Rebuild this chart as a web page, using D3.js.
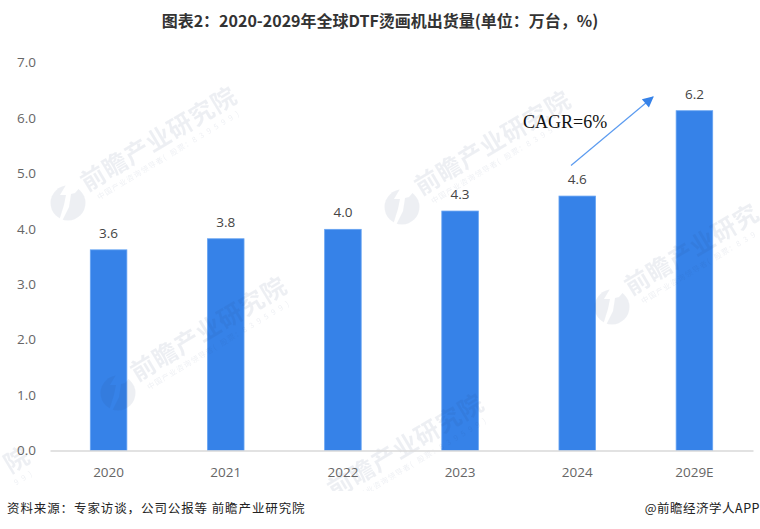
<!DOCTYPE html>
<html><head><meta charset="utf-8">
<script src="https://cdn.jsdelivr.net/npm/d3@7"></script>
<style>html,body{margin:0;padding:0;background:#fff}svg{display:block}</style></head>
<body><svg id="c" width="760" height="529"></svg>
<script>
const categories = ["2020","2021","2022","2023","2024","2029E"];
const values = [3.62,3.82,3.99,4.32,4.59,6.13];
const valueLabels = ["3.6","3.8","4.0","4.3","4.6","6.2"];
const yTicks = [0,1,2,3,4,5,6,7];
const titleText = "图表2\uFF1A2020-2029年全球DTF烫画机出货量(单位\uFF1A万台\uFF0C%)";
const sourceText = "资料来源\uFF1A专家访谈\uFF0C公司公报等 前瞻产业研究院";
const creditText = "@前瞻经济学人APP";
const cagrText = "CAGR=6%";
const watermarkMain = Array.from("前瞻产业研究院");
const watermarkSub = Array.from("中国产业咨询领导者(股票\uFF1A839599)");

const svg = d3.select("#c");
const x = d3.scaleBand().domain(categories).range([50,753]).paddingInner(0.688).paddingOuter(0.344);
const y = d3.scaleLinear().domain([0,7]).range([450.5,62.5]);
const cjk = "'Noto Sans CJK SC','Noto Sans',sans-serif";
const latin = "'Open Sans','Noto Sans',sans-serif";
const defs = svg.append("defs");

// bars
svg.append("g").selectAll("rect").data(values).join("rect")
  .attr("x",(d,i)=>x(categories[i])).attr("y",d=>y(d))
  .attr("width",x.bandwidth()).attr("height",d=>y(0)-y(d))
  .attr("fill","#3682e8").attr("stroke","#66a3f2").attr("stroke-width",0.8);

// watermarks
const mask = defs.append("mask").attr("id","logo").attr("maskUnits","userSpaceOnUse")
  .attr("x",-20).attr("y",-20).attr("width",40).attr("height",40);
mask.append("circle").attr("r",17.5).attr("fill","#fff");
mask.append("path").attr("d","M-2,-18 L14,-18 L7,-10 L3,-9 L1,4 L-6,18 L-9,18 L-4,2 L-2,-8 L-8,-8 Z").attr("fill","#000");
const wmColor = "#1f3a6e", wmOpacity = 0.075;
const wm = svg.append("g").attr("class","watermarks");
[
 {lx:68,ly:203,m:[0,7],s:[0,20],logo:true},
 {lx:402,ly:207,m:[0,7],s:[0,20],logo:true},
 {lx:612,ly:307,m:[0,6],s:[0,16],logo:true},
 {lx:118,ly:393,m:[0,7],s:[0,20],logo:true},
 {lx:-139,ly:563,m:[6,7],s:[17,20],logo:false},
 {lx:315,ly:510,m:[0,7],s:[0,20],logo:false}
].forEach(w=>{
  const g = wm.append("g").attr("transform",`translate(${w.lx},${w.ly})`);
  if(w.logo) g.append("rect").attr("x",-20).attr("y",-20).attr("width",40).attr("height",40)
    .attr("fill",wmColor).attr("opacity",wmOpacity).attr("mask","url(#logo)");
  const t = g.append("g").attr("transform","translate(25,-25) rotate(-31)");
  const mainIdx = d3.range(w.m[0],w.m[1]), subIdx = d3.range(w.s[0],w.s[1]);
  t.append("text").attr("x",mainIdx.map(i=>-12+i*25.3).join(" ")).attr("y",9)
    .attr("font-family",cjk).attr("font-size",24.5).attr("font-weight",700)
    .attr("fill",wmColor).attr("opacity",wmOpacity)
    .text(mainIdx.map(i=>watermarkMain[i]).join(""));
  t.append("text").attr("x",subIdx.map(i=>-6+i*8.5).join(" ")).attr("y",22)
    .attr("font-family",cjk).attr("font-size",7.5)
    .attr("fill",wmColor).attr("opacity",wmOpacity)
    .text(subIdx.map(i=>watermarkSub[i]).join(""));
});
// white footer band hides the watermark's lower part
svg.append("rect").attr("x",0).attr("y",491).attr("width",760).attr("height",38).attr("fill","#fff");

// title
svg.append("text").attr("x",380).attr("y",27).attr("text-anchor","middle")
  .attr("font-family","'Noto Sans CJK SC',sans-serif").attr("font-weight",700)
  .attr("font-size",16).attr("fill","#333").text(titleText);

// y axis labels
const yAxis = d3.axisLeft(y).tickValues(yTicks).tickFormat(d3.format(".1f")).tickSize(0).tickPadding(0);
const yg = svg.append("g").attr("transform","translate(36,0)").call(yAxis);
yg.select(".domain").remove();
yg.selectAll("text").attr("font-family",latin).attr("font-size",13.5).attr("fill","#666").attr("dy","0.32em");

// x axis
const xAxis = d3.axisBottom(x).tickSize(0).tickPadding(14);
const xg = svg.append("g").attr("transform",`translate(0,${y(0)})`).call(xAxis);
xg.select(".domain").attr("stroke","#d9d9d9").attr("stroke-width",1.5);
xg.selectAll("text").attr("font-family",latin).attr("font-size",13.5).attr("fill","#666").attr("dy","0.95em");

// value labels
svg.append("g").selectAll("text").data(values).join("text")
  .attr("x",(d,i)=>x(categories[i])+x.bandwidth()/2).attr("y",d=>y(d)-12)
  .attr("text-anchor","middle").attr("font-family",latin).attr("font-size",13.5).attr("fill","#444")
  .text((d,i)=>valueLabels[i]);

// CAGR annotation
defs.append("marker").attr("id","ah").attr("viewBox","0 0 10 10").attr("refX",9).attr("refY",5)
  .attr("markerWidth",13).attr("markerHeight",11).attr("markerUnits","userSpaceOnUse").attr("orient","auto")
  .append("path").attr("d","M0,0L10,5L0,10Z").attr("fill","#3682e8");
svg.append("line").attr("x1",571).attr("y1",165.5).attr("x2",653).attr("y2",97)
  .attr("stroke","#5b9bf0").attr("stroke-width",1.2).attr("marker-end","url(#ah)");
svg.append("text").attr("x",523).attr("y",128).attr("font-family","'Liberation Serif',serif")
  .attr("font-size",18).attr("fill","#111").text(cagrText);

// footer
svg.append("text").attr("x",7).attr("y",513).attr("font-family",cjk).attr("font-size",12.5).attr("letter-spacing",0.9)
  .attr("fill","#222").text(sourceText);
svg.append("text").attr("x",760).attr("y",513).attr("text-anchor","end").attr("font-family",cjk).attr("font-size",12.5).attr("letter-spacing",0.5)
  .attr("fill","#222").text(creditText);
</script></body></html>
